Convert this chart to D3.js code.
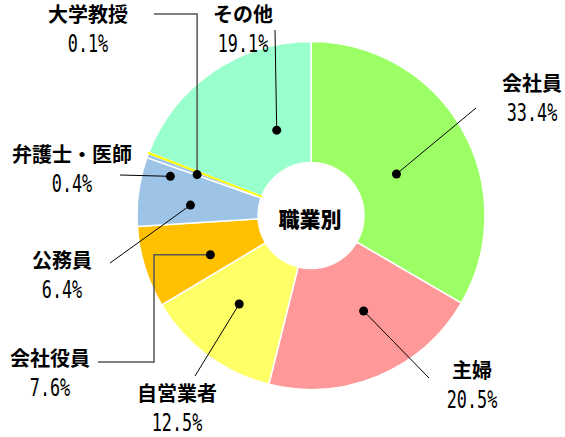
<!DOCTYPE html>
<html lang="ja">
<head>
<meta charset="utf-8">
<title>職業別</title>
<style>
  body { margin: 0; background: #fff; }
  .label { font-family: "Noto Sans CJK JP"; font-size: 20px; font-weight: 600; text-anchor: middle; dominant-baseline: central; }
  .pct { font-family: "DejaVu Sans Mono"; font-size: 24px; text-anchor: middle; dominant-baseline: central; }
  .center { font-family: "Noto Sans CJK JP"; font-size: 21px; font-weight: 900; text-anchor: middle; dominant-baseline: central; }
  .leader { fill: none; stroke: #000; stroke-width: 1px; }
  .leader.elbow { stroke: #555; stroke-width: 1.5px; }
  .dot { fill: #000; }
</style>
</head>
<body>
<script src="https://d3js.org/d3.v7.min.js"></script>
<script>
var categories = ['会社員', '主婦', '自営業者', '会社役員', '公務員', '弁護士・医師', '大学教授', 'その他'];
var shares = [33.4, 20.5, 12.5, 7.6, 6.4, 0.4, 0.1, 19.1];
var colors = ['#9cff66', '#ff9999', '#ffff66', '#ffc000', '#9dc3e6', '#9fc5e8', '#ffff00', '#99ffcc'];
var title = '職業別';

// where each label sits, and how its leader runs from the dot
var layout = [
  { da: 4,    r: 95,  path: [['L', 476, 108]], lx: 532, ly: 82 },
  { da: -6,   r: 109, path: [['L', 429, 378]], lx: 472, ly: 369 },
  { da: 2.5,  r: 114, path: [['L', 195, 376]], lx: 177, ly: 392 },
  { da: -4,   r: 108, path: [['H', 154], ['V', 362], ['H', 98]], lx: 50, ly: 357, elbow: true },
  { da: -3,   r: 121, path: [['L', 110, 263]], lx: 62, ly: 259 },
  { da: -4.6, r: 146, path: [['L', 120, 175]], lx: 72, ly: 153 },
  { da: -1.3, r: 121, path: [['V', 14], ['H', 154]], lx: 88, ly: 13, elbow: true },
  { da: 12.5, r: 92,  path: [['L', 275, 30]], lx: 243, ly: 13 }
];

var width = 565, height = 437;
var cx = 311, cy = 215.5, outerR = 174, innerR = 53;
var pctSquash = 0.7;

var svg = d3.select('body')
  .append('svg')
    .attr('width', width)
    .attr('height', height);

var pie = d3.pie().sort(null).value(function(d) { return d; });
var arcs = pie(shares);
var arc = d3.arc().innerRadius(innerR).outerRadius(outerR);

var g = svg.append('g')
  .attr('transform', 'translate(' + cx + ',' + cy + ')');

// big slices first with white gaps, the tiny ones on top
var order = d3.range(arcs.length).sort(function(a, b) { return shares[b] - shares[a]; });

g.selectAll('path.slice')
  .data(order)
  .enter().append('path')
    .attr('class', 'slice')
    .attr('d', function(i) { return arc(arcs[i]); })
    .attr('fill', function(i) { return colors[i]; })
    .attr('stroke', function(i) { return shares[i] < 0.2 ? colors[i] : '#fff'; })
    .attr('stroke-width', function(i) { return shares[i] < 0.2 ? 1.2 : 1.5; });

function dotPos(i) {
  var a = (arcs[i].startAngle + arcs[i].endAngle) / 2 + layout[i].da * Math.PI / 180;
  return [cx + layout[i].r * Math.sin(a), cy - layout[i].r * Math.cos(a)];
}

var leaders = svg.append('g');
leaders.selectAll('path')
  .data(categories)
  .enter().append('path')
    .attr('class', function(d, i) { return layout[i].elbow ? 'leader elbow' : 'leader'; })
    .attr('d', function(d, i) {
      var p = dotPos(i);
      var s = 'M' + p[0] + ',' + p[1];
      layout[i].path.forEach(function(c) { s += c[0] + c.slice(1).join(','); });
      return s;
    });

svg.append('g').selectAll('circle')
  .data(categories)
  .enter().append('circle')
    .attr('class', 'dot')
    .attr('cx', function(d, i) { return dotPos(i)[0]; })
    .attr('cy', function(d, i) { return dotPos(i)[1]; })
    .attr('r', 4.5);

var labels = svg.append('g');
labels.selectAll('text.label')
  .data(categories)
  .enter().append('text')
    .attr('class', 'label')
    .attr('x', function(d, i) { return layout[i].lx; })
    .attr('y', function(d, i) { return layout[i].ly; })
    .text(function(d) { return d; });

labels.selectAll('text.pct')
  .data(shares)
  .enter().append('text')
    .attr('class', 'pct')
    .attr('transform', function(d, i) {
      return 'translate(' + layout[i].lx + ',' + (layout[i].ly + 31) + ') scale(' + pctSquash + ',1)';
    })
    .text(function(d) { return d.toFixed(1) + '%'; });

svg.append('text')
  .attr('class', 'center')
  .attr('x', cx - 1)
  .attr('y', cy + 2)
  .text(title);
</script>
</body>
</html>
